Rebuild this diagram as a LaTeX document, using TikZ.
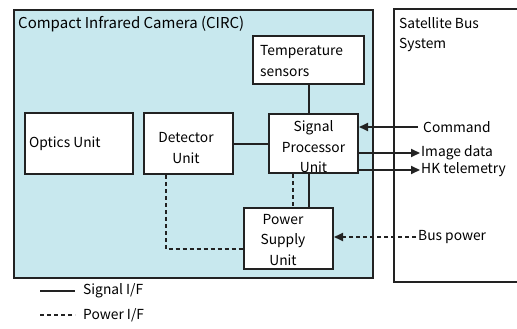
\documentclass[tikz,border=0pt]{standalone}
\usepackage{fontspec}
\setmainfont{Noto Sans CJK JP}
\usetikzlibrary{arrows.meta}
\definecolor{circcyan}{HTML}{C8E8EE}
\definecolor{edgegray}{HTML}{222222}

\tikzset{
  unitbox/.style={draw=edgegray, line width=2pt, fill=white, inner sep=0pt},
  unittext/.style={font=\fontsize{13.8}{20.5}\selectfont, align=center, inner sep=0pt},
  signal/.style={line width=2pt, draw=edgegray},
  power/.style={line width=2pt, draw=edgegray, dash pattern=on 4pt off 3pt},
  tip/.style={-{Triangle[length=9pt,width=8pt]}},
  sidetext/.style={font=\fontsize{13.8}{20.5}\selectfont, anchor=west, inner sep=0pt}
}

\begin{document}
\begin{tikzpicture}[x=1pt,y=-1pt]
  \useasboundingbox (0,0) rectangle (517,329);
  \fill[white] (0,0) rectangle (517,329);

  % Camera enclosure and satellite bus
  \draw[edgegray, line width=2pt, fill=circcyan] (14,10) rectangle (373,278);
  \draw[edgegray, line width=2pt] (530,9) -- (394,9) -- (394,282) -- (530,282);
  \node[sidetext, font=\fontsize{15}{20.5}\selectfont] (circtitle) at (18,24) {Compact Infrared Camera (CIRC)};
  \node[sidetext, align=left, anchor=north west] (bustitle) at (399,17) {Satellite Bus\\System};

  % Units
  \node[unitbox, minimum width=108pt, minimum height=61pt] (optics) at (79,143.5) {};
  \node[sidetext] (opticstext) at (29,143.5) {Optics Unit};
  \node[unitbox, minimum width=89pt, minimum height=61pt] (detector) at (188.5,143.5) {};
  \node[unittext] (detectortext) at (186,148) {Detector\\Unit};
  \node[unitbox, minimum width=111pt, minimum height=48pt] (temp) at (308.5,60) {};
  \node[sidetext, align=left] (temptext) at (260,61) {Temperature\\sensors};
  \node[unitbox, minimum width=89pt, minimum height=59pt] (spu) at (313.5,143.5) {};
  \node[unitbox, minimum width=89pt, minimum height=61pt] (psu) at (288.5,238.5) {};

  % Signal lines
  \draw[signal] (temp.south) -- (temp.south |- spu.north);
  \draw[signal] (detector.east) -- (spu.west);
  \draw[signal] ([xshift=-4.5pt]spu.south) -- ([xshift=20.5pt]psu.north);

  % Power lines
  \draw[power] ([xshift=22.5pt]detector.south west) |- ([yshift=-10.5pt]psu.west);
  \draw[power] ([xshift=-20.5pt]spu.south) -- ([xshift=4.5pt]psu.north);

  % Interfaces to the bus
  \coordinate (cmd) at (418,127);
  \coordinate (img) at (420,153);
  \coordinate (hk) at (420,170);
  \coordinate (bus) at (416,237);
  \draw[signal, tip] (cmd) -- (cmd -| spu.east);
  \draw[signal, tip] (img -| spu.east) -- (img);
  \draw[signal, tip] (hk -| spu.east) -- (hk);
  \draw[power, tip] (bus) -- (bus -| psu.east);
  \node[sidetext] (cmdtext) at (423,127) {Command};
  \node[sidetext] (imgtext) at (421,153) {Image data};
  \node[sidetext] (hktext) at (421,170) {HK telemetry};
  \node[sidetext] (bustext) at (418,237) {Bus power};

  % Labels drawn over the boxes
  \node[unittext] (sputext) at (313.5,147) {Signal\\Processor\\Unit};
  \node[unittext] (psutext) at (283,240) {Power\\Supply\\Unit};

  % Legend
  \coordinate (sigleft) at (40,291);
  \coordinate (sigright) at (75,291);
  \coordinate (pwrleft) at (40,315);
  \coordinate (pwrright) at (75,315);
  \draw[edgegray, line width=1.3pt] (sigleft) -- (sigright);
  \draw[edgegray, line width=1.3pt, dash pattern=on 4pt off 3pt] (pwrleft) -- (pwrright);
  \node[sidetext] (sigtext) at (83,291) {Signal I/F};
  \node[sidetext] (pwrtext) at (83,315) {Power I/F};
\end{tikzpicture}
\end{document}
